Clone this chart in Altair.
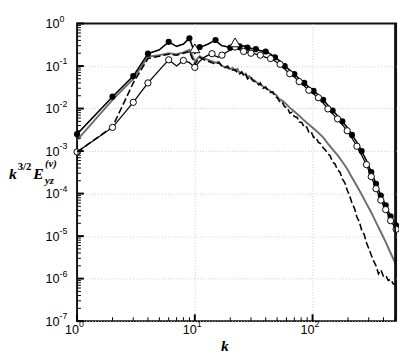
import altair as alt
import pandas as pd

# ---------------- data ----------------
K = [1, 2, 3, 4, 5, 6, 7, 8, 9, 10, 11, 12, 13, 14, 15, 16, 17, 18, 19, 20,
     22, 24, 26, 28, 30, 33, 36, 40, 44, 48, 53, 58, 64, 70, 77, 85, 93, 102,
     112, 123, 135, 148, 163, 179, 197, 216, 238, 261, 287, 315, 346, 380,
     418, 460, 512]

# solid black, filled circles
A_VAL = [2.5e-3, 0.019, 0.058, 0.195, 0.24, 0.37, 0.29, 0.33, 0.45, 0.20,
         0.28, 0.30, 0.33, 0.37, 0.41, 0.34, 0.30, 0.29, 0.28, 0.27,
         0.31, 0.29, 0.30, 0.27, 0.26, 0.25, 0.23, 0.22, 0.19, 0.16,
         0.13, 0.10, 0.08, 0.065, 0.05, 0.04, 0.032, 0.026, 0.021, 0.016,
         0.012, 0.009, 0.0068, 0.005, 0.0036, 0.0024, 0.0016, 0.001, 6e-4,
         3.2e-4, 1.7e-4, 9e-5, 5.3e-5, 2.9e-5, 1.8e-5]

# solid black, open circles
B_VAL = [9.5e-4, 3.6e-3, 0.014, 0.04, 0.08, 0.14, 0.10, 0.135, 0.12, 0.093,
         0.13, 0.16, 0.18, 0.195, 0.17, 0.16, 0.18, 0.20, 0.22, 0.24,
         0.28, 0.24, 0.22, 0.21, 0.20, 0.19, 0.18, 0.16, 0.15, 0.13,
         0.11, 0.085, 0.066, 0.055, 0.043, 0.034, 0.027, 0.022, 0.018, 0.0135,
         0.0098, 0.0075, 0.0057, 0.0042, 0.003, 0.002, 0.0013, 8e-4, 4.8e-4,
         2.5e-4, 1.3e-4, 7e-5, 4.2e-5, 2.3e-5, 1.45e-5]

# solid gray
C_K = [1, 2, 3, 4, 5, 6, 7, 8, 9, 10, 11, 12, 13, 14, 15, 16, 17, 18, 19, 20,
       21, 22, 23, 24, 25, 26, 27, 28, 29, 30, 32, 34, 36, 38, 40, 43, 46, 49,
       52, 56, 60, 64, 70, 77, 85, 93, 102, 112, 123, 135, 148, 163, 179, 197,
       216, 238, 261, 287, 315, 346, 380, 418, 460, 512]
C_VAL = [1.8e-3, 0.016, 0.05, 0.165, 0.18, 0.20, 0.19, 0.21, 0.24, 0.13,
         0.17, 0.15, 0.14, 0.13, 0.12, 0.125, 0.10, 0.095, 0.09, 0.085,
         0.09, 0.078, 0.085, 0.068, 0.072, 0.062, 0.066, 0.055, 0.058, 0.05,
         0.046, 0.04, 0.037, 0.033, 0.03, 0.027, 0.023, 0.021, 0.017, 0.015,
         0.0125, 0.0105, 0.0085, 0.0068, 0.0052, 0.0042, 0.0034, 0.0027,
         0.0021, 0.0015, 0.0011, 8e-4, 5.6e-4, 3.8e-4, 2.4e-4, 1.5e-4, 9.5e-5,
         5.8e-5, 3.6e-5, 2.1e-5, 1.25e-5, 7.2e-6, 4e-6, 2.1e-6]

# dashed black
D_K = [1, 2, 3, 4, 5, 6, 7, 8, 9, 10, 11, 12, 13, 14, 15, 16, 17, 18, 19, 20,
       22, 23, 24, 25, 26, 27, 28, 30, 31, 33, 35, 36, 38, 40, 42, 44, 46, 48,
       50, 53, 55, 58, 61, 64, 67, 70, 74, 77, 81, 85, 89, 93, 97, 102, 107,
       112, 117, 123, 129, 135, 141, 148, 155, 163, 171, 179, 188, 197, 206,
       216, 227, 238, 249, 261, 274, 287, 301, 315, 330, 346, 363, 380, 399,
       418, 439, 460, 485, 512]
D_VAL = [9.5e-4, 3.7e-3, 0.04, 0.15, 0.17, 0.19, 0.18, 0.20, 0.22, 0.11,
         0.16, 0.14, 0.13, 0.12, 0.11, 0.12, 0.10, 0.092, 0.10, 0.08,
         0.082, 0.07, 0.065, 0.072, 0.06, 0.066, 0.05, 0.056, 0.045, 0.042,
         0.036, 0.04, 0.03, 0.032, 0.026, 0.024, 0.025, 0.019, 0.018, 0.014,
         0.0145, 0.011, 0.0105, 0.0078, 0.0082, 0.0065, 0.0062, 0.0048, 0.0047,
         0.0036, 0.0037, 0.0028, 0.0029, 0.0021, 0.0021, 0.0016, 0.0015,
         0.0012, 0.00105, 8.5e-4, 7.8e-4, 5.5e-4, 5e-4, 3.6e-4, 3.2e-4, 2.2e-4,
         1.8e-4, 1.2e-4, 9e-5, 6e-5, 4.5e-5, 2.8e-5, 2.2e-5, 1.4e-5, 1.1e-5,
         7e-6, 5e-6, 3.6e-6, 2.6e-6, 2e-6, 1.3e-6, 1.6e-6, 1.15e-6, 1.2e-6,
         9e-7, 9.5e-7, 7.5e-7, 7e-7]

A_MARK_K = [1, 2, 3, 4, 6, 9, 11, 15, 20, 24, 28, 33, 40, 48, 58, 70, 85,
            102, 123, 148, 179, 216, 261, 315, 346, 380, 418, 460, 512]
B_MARK_K = [1, 2, 3, 4, 6, 8, 10, 14, 17, 22, 26, 30, 36, 44, 53, 64, 77,
            93, 112, 135, 163, 197, 238, 287, 315, 346, 380, 418, 460, 512]

TRI_K = [10, 22]
TRI_VAL = [0.26, 0.36]

X_EXP = [0, 1, 2]
Y_EXP = [0, -1, -2, -3, -4, -5, -6, -7]
MINOR_MULT = [2, 3, 4, 5, 6, 7, 8, 9]

# ---------------- tables ----------------
dfA = pd.DataFrame({"k": K, "v": A_VAL})
dfB = pd.DataFrame({"k": K, "v": B_VAL})
dfC = pd.DataFrame({"k": C_K, "v": C_VAL})
dfD = pd.DataFrame({"k": D_K, "v": D_VAL})
dfAm = dfA[dfA["k"].isin(A_MARK_K)]
dfBm = dfB[dfB["k"].isin(B_MARK_K)]
dfT = pd.DataFrame({"k": TRI_K, "v": TRI_VAL})

x_major = pd.DataFrame({"k": [10.0 ** e for e in X_EXP], "e": [str(e) for e in X_EXP]})
y_major = pd.DataFrame({"v": [10.0 ** e for e in Y_EXP], "e": [str(e) for e in Y_EXP]})
x_minor = pd.DataFrame({"k": [m * 10.0 ** e for e in X_EXP for m in MINOR_MULT
                              if m * 10.0 ** e <= 512]})
y_minor = pd.DataFrame({"v": [m * 10.0 ** e for e in Y_EXP[1:] for m in MINOR_MULT]})

W, H = 328, 306
xs = alt.Scale(type="log", domain=[1, 512], nice=False)
ys = alt.Scale(type="log", domain=[1e-7, 1], nice=False)
xaxis = alt.Axis(values=[10, 100], grid=True, labels=False, ticks=False,
                 domain=False, title=None, gridColor="#c8c8c8", gridDash=[1, 2],
                 gridWidth=1)
yaxis = alt.Axis(values=[10.0 ** e for e in Y_EXP[1:]], grid=True, labels=False,
                 ticks=False, domain=False, title=None, gridColor="#c8c8c8",
                 gridDash=[1, 2], gridWidth=1)


def X(f="k"):
    return alt.X(f, type="quantitative", scale=xs, axis=xaxis)


def Y(f="v"):
    return alt.Y(f, type="quantitative", scale=ys, axis=yaxis)


layers = []

# lines
layers.append(alt.Chart(dfC).mark_line(color="#6e6e6e", strokeWidth=2, clip=True)
              .encode(x=X(), y=Y()))
layers.append(alt.Chart(dfD).mark_line(color="#000000", strokeWidth=1.6,
                                       strokeDash=[7, 3], clip=True)
              .encode(x=X(), y=Y()))
layers.append(alt.Chart(dfA).mark_line(color="#000000", strokeWidth=1.6, clip=True)
              .encode(x=X(), y=Y()))
layers.append(alt.Chart(dfB).mark_line(color="#000000", strokeWidth=1.3, clip=True)
              .encode(x=X(), y=Y()))

# markers
layers.append(alt.Chart(dfAm).mark_point(shape="circle", filled=True, color="#000",
                                         size=40, opacity=1)
              .encode(x=X(), y=Y()))
layers.append(alt.Chart(dfBm).mark_point(shape="circle", fill="white", stroke="#000",
                                         strokeWidth=1, size=42, opacity=1,
                                         fillOpacity=1)
              .encode(x=X(), y=Y()))
layers.append(alt.Chart(dfT).mark_point(shape="triangle-up", fill="white",
                                        stroke="#000", strokeWidth=1, size=110,
                                        opacity=1, fillOpacity=1)
              .encode(x=X(), y=Y()))

# tick marks (inside)
layers.append(alt.Chart(y_major).mark_rule(color="#000", strokeWidth=2)
              .encode(y=Y(), x=alt.value(0), x2=alt.value(7)))
layers.append(alt.Chart(y_minor).mark_rule(color="#000", strokeWidth=1)
              .encode(y=Y(), x=alt.value(0), x2=alt.value(4)))
layers.append(alt.Chart(x_major).mark_rule(color="#000", strokeWidth=2)
              .encode(x=X(), y=alt.value(H), y2=alt.value(H - 7)))
layers.append(alt.Chart(x_minor).mark_rule(color="#000", strokeWidth=1)
              .encode(x=X(), y=alt.value(H), y2=alt.value(H - 4)))

# explicit right frame edge
layers.append(alt.Chart(pd.DataFrame({"t": [0]})).mark_rule(color="#111", strokeWidth=2)
              .encode(x=alt.value(W - 1), y=alt.value(0), y2=alt.value(H)))

# tick labels: "10" with superscript exponent
LF = "Liberation Sans"
layers.append(alt.Chart(y_major).mark_text(text="10", align="right", baseline="middle",
                                           font=LF, fontSize=13, dy=1)
              .encode(y=Y(), x=alt.value(-18)))
layers.append(alt.Chart(y_major).mark_text(align="left", baseline="middle",
                                           font=LF, fontSize=9, dy=-5)
              .encode(y=Y(), x=alt.value(-18), text="e:N"))
layers.append(alt.Chart(x_major).mark_text(text="10", align="right", baseline="middle",
                                           font=LF, fontSize=13, dx=2)
              .encode(x=X(), y=alt.value(315)))
layers.append(alt.Chart(x_major).mark_text(align="left", baseline="middle",
                                           font=LF, fontSize=9, dx=2)
              .encode(x=X(), y=alt.value(309), text="e:N"))

# axis titles
SF = "Liberation Serif"


def txt(s, x, y, size, style="italic", weight="bold"):
    return alt.Chart(pd.DataFrame({"t": [s]})).mark_text(
        align="left", baseline="alphabetic", font=SF, fontSize=size,
        fontStyle=style, fontWeight=weight).encode(
        text="t:N", x=alt.value(x), y=alt.value(y))


layers.append(txt("k", 148, 337, 16))
layers.append(txt("k", -70, 160, 16))
layers.append(txt("3/2", -61, 151, 11, style="normal"))
layers.append(txt("E", -45, 160, 16))
layers.append(txt("(v)", -33, 148, 11))
layers.append(txt("yz", -33, 165, 11))

chart = alt.layer(*layers).properties(
    width=W, height=H,
    autosize=alt.AutoSizeParams(type="none"),
    padding={"left": 71, "top": 11, "right": 3, "bottom": 34},
).configure_view(stroke="#111", strokeWidth=2)

chart.save("out.html", embed_options={"renderer": "svg", "actions": False})
